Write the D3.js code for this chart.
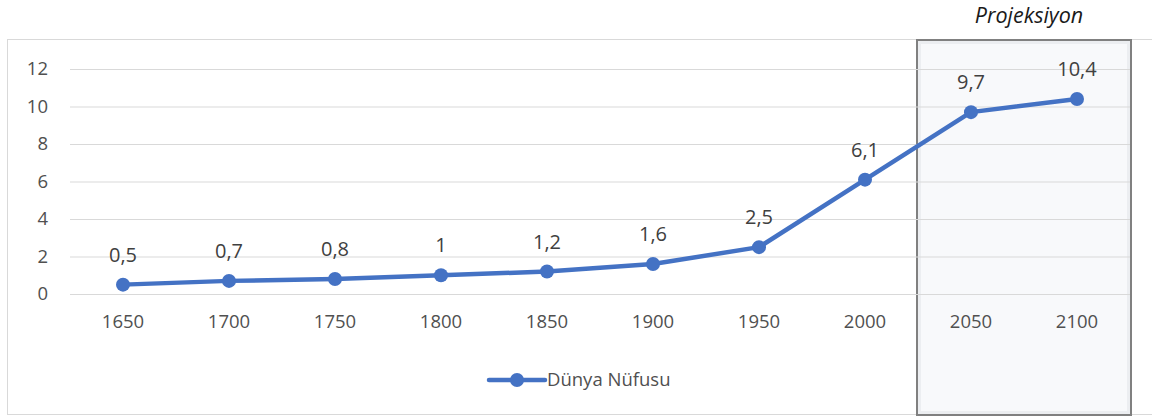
<!DOCTYPE html>
<html>
<head>
<meta charset="utf-8">
<script src="https://cdn.jsdelivr.net/npm/d3@7"></script>
<style>
  body { margin: 0; background: #fff; }
  svg { display: block; font-family: "Open Sans", "Noto Sans", sans-serif; }
</style>
</head>
<body>
<div id="container"></div>
<script>
// data
const years = ["1650", "1700", "1750", "1800", "1850", "1900", "1950", "2000", "2050", "2100"];
const population = [0.5, 0.7, 0.8, 1, 1.2, 1.6, 2.5, 6.1, 9.7, 10.4];
const labels = ["0,5", "0,7", "0,8", "1", "1,2", "1,6", "2,5", "6,1", "9,7", "10,4"];
const yTicks = [0, 2, 4, 6, 8, 10, 12];
const projectionYears = ["2050", "2100"];
const seriesName = "Dünya Nüfusu";

const width = 1152;
const height = 418;
const blue = "#4472C4";

const svg = d3.select("#container").append("svg")
    .attr("width", width)
    .attr("height", height);

// chart frame
svg.append("rect")
    .attr("x", 7.5).attr("y", 39.5)
    .attr("width", 1160).attr("height", 375)
    .attr("fill", "#fff")
    .attr("stroke", "#d9d9d9");

//----------------------------SCALES-----------------------------//
const x = d3.scaleBand().domain(years).range([70, 1130]);
const y = d3.scaleLinear().domain([0, 12]).range([294, 69]);
const cx = d => x(d) + x.bandwidth() / 2;

// projection shading
const px0 = x(projectionYears[0]) - 1;
const px1 = x(projectionYears[projectionYears.length - 1]) + x.bandwidth() + 1;
svg.append("rect")
    .attr("x", px0).attr("y", 40)
    .attr("width", px1 - px0).attr("height", 375)
    .attr("fill", "#f8f9fb");
svg.append("rect")
    .attr("x", px0 + 2.5).attr("y", 42.5)
    .attr("width", px1 - px0 - 5).attr("height", 370)
    .attr("fill", "none")
    .attr("stroke", "#eceef1")
    .attr("stroke-width", 3);
svg.append("rect")
    .attr("x", px0).attr("y", 40)
    .attr("width", px1 - px0).attr("height", 375)
    .attr("fill", "none")
    .attr("stroke", "#808080")
    .attr("stroke-width", 2);

svg.append("text")
    .attr("x", (px0 + px1) / 2 + 5).attr("y", 23)
    .attr("text-anchor", "middle")
    .attr("font-style", "italic")
    .attr("font-size", 21.5)
    .attr("fill", "#1a1a1a")
    .text("Projeksiyon");

//-----------------------------AXES------------------------------//
svg.append("g")
    .attr("transform", "translate(70,0)")
    .call(d3.axisLeft(y).tickValues(yTicks).tickSize(-1060).tickPadding(22))
    .call(g => g.select(".domain").remove())
    .call(g => g.selectAll("line").attr("stroke", "#d9d9d9"))
    .call(g => g.selectAll("text").attr("fill", "#505050").attr("font-size", 18.5)
        .attr("font-family", "'Open Sans', sans-serif"));

svg.append("g")
    .attr("transform", "translate(0,294)")
    .call(d3.axisBottom(x).tickSize(0).tickPadding(21))
    .call(g => g.select(".domain").remove())
    .call(g => g.selectAll("text").attr("fill", "#505050").attr("font-size", 18.5)
        .attr("font-family", "'Open Sans', sans-serif"));

//----------------------------LINES------------------------------//
const line = d3.line()
    .x((d, i) => cx(years[i]))
    .y(d => y(d));

svg.append("path")
    .datum(population)
    .attr("d", line)
    .attr("fill", "none")
    .attr("stroke", blue)
    .attr("stroke-width", 4.5)
    .attr("stroke-linejoin", "round");

svg.selectAll("circle.pt")
    .data(population)
    .join("circle")
    .attr("class", "pt")
    .attr("cx", (d, i) => cx(years[i]))
    .attr("cy", d => y(d))
    .attr("r", 7)
    .attr("fill", blue);

svg.selectAll("text.lbl")
    .data(population)
    .join("text")
    .attr("class", "lbl")
    .attr("x", (d, i) => cx(years[i]))
    .attr("y", d => y(d) - 23)
    .attr("text-anchor", "middle")
    .attr("font-size", 20)
    .attr("fill", "#404040")
    .text((d, i) => labels[i]);

//----------------------------LEGEND-----------------------------//
const lg = svg.append("g").attr("transform", "translate(489,380)");
lg.append("line")
    .attr("x1", 0).attr("x2", 56)
    .attr("stroke", blue).attr("stroke-width", 4.5).attr("stroke-linecap", "round");
lg.append("circle").attr("cx", 28).attr("r", 7).attr("fill", blue);
lg.append("text")
    .attr("x", 58).attr("y", 6)
    .attr("font-size", 18.5)
    .attr("fill", "#505050")
    .text(seriesName);
</script>
</body>
</html>
